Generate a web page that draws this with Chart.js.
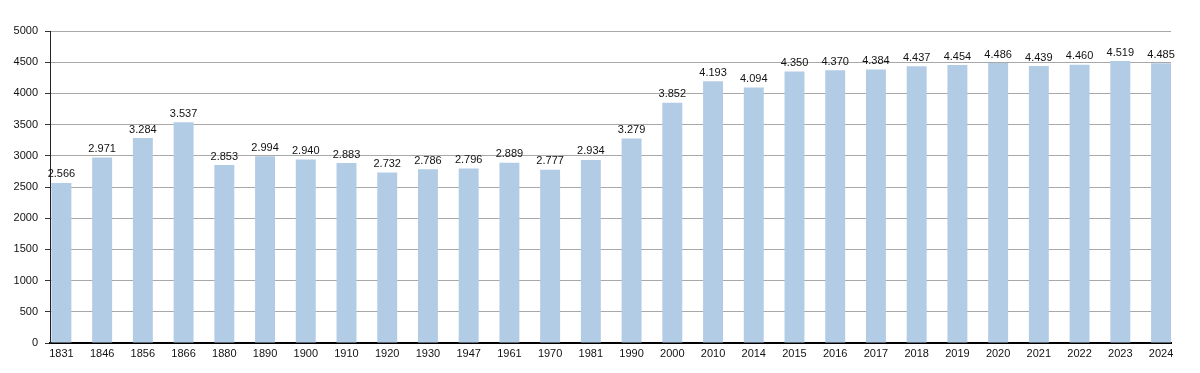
<!DOCTYPE html>
<html>
<head>
<meta charset="utf-8">
<script src="https://cdn.jsdelivr.net/npm/chart.js@4"></script>
<style>
	html, body { margin: 0; padding: 0; background: #fff; }
	#wrap { width: 1200px; height: 373px; }
</style>
</head>
<body>
<div id="wrap"><canvas id="popChart" width="1200" height="373"></canvas></div>
<script>
	const years = [
		"1831", "1846", "1856", "1866", "1880", "1890", "1900", "1910", "1920", "1930",
		"1947", "1961", "1970", "1981", "1990", "2000", "2010", "2014", "2015", "2016",
		"2017", "2018", "2019", "2020", "2021", "2022", "2023", "2024",
	];
	const population = [
		2566, 2971, 3284, 3537, 2853, 2994, 2940, 2883, 2732, 2786,
		2796, 2889, 2777, 2934, 3279, 3852, 4193, 4094, 4350, 4370,
		4384, 4437, 4454, 4486, 4439, 4460, 4519, 4485,
	];
	const yMax = 5000;
	const yStep = 250;

	const fmt = (v) => v.toLocaleString("de-DE");
	const font = "'Liberation Sans', Arial, sans-serif";

	// bars sit flush against the y axis on the left and the plot edge on the right
	const xMin = -0.28;
	const xMax = years.length - 1 + 0.245;

	const valueLabels = {
		id: "valueLabels",
		afterDatasetsDraw(chart) {
			const ctx = chart.ctx;
			const meta = chart.getDatasetMeta(0);
			ctx.save();
			ctx.font = "11px " + font;
			ctx.fillStyle = "#111";
			ctx.textAlign = "center";
			ctx.textBaseline = "bottom";
			meta.data.forEach((bar, i) => {
				ctx.fillText(fmt(population[i]), bar.x, bar.y - 3);
			});
			ctx.restore();
		},
	};

	new Chart(document.getElementById("popChart").getContext("2d"), {
		type: "bar",
		data: {
			datasets: [
				{
					data: population.map((v, i) => ({ x: i, y: v })),
					backgroundColor: "#b3cce6",
					borderWidth: 0,
					categoryPercentage: 1,
					barPercentage: 0.49,
				},
			],
		},
		options: {
			responsive: false,
			animation: false,
			layout: { padding: { top: 31, right: 29, left: 0, bottom: 0 } },
			plugins: { legend: { display: false }, tooltip: { enabled: false } },
			scales: {
				x: {
					type: "linear",
					offset: false,
					min: xMin,
					max: xMax,
					afterFit: (s) => { s.height = 30; },
					grid: { display: true, color: "rgba(0,0,0,0)", drawTicks: false },
					border: { color: "#000", width: 2 },
					ticks: {
						stepSize: 1,
						includeBounds: false,
						color: "#111",
						padding: 4,
						maxRotation: 0,
						autoSkip: false,
						font: { family: font, size: 11 },
						callback: (v) => (Number.isInteger(v) ? years[v] : ""),
					},
				},
				y: {
					min: 0,
					max: yMax,
					afterFit: (s) => { s.width = 50; },
					border: { color: "#222", width: 1 },
					grid: {
						color: (c) => (c.tick && c.tick.value % 500 === 0 ? "#a8a8a8" : "#e6e6e6"),
						tickColor: "#333",
						tickLength: 5,
					},
					ticks: {
						stepSize: yStep,
						color: "#111",
						padding: 7,
						font: { family: font, size: 11 },
						callback: (v) => (v % 500 === 0 ? v : ""),
					},
				},
			},
		},
		plugins: [valueLabels],
	});
</script>
</body>
</html>
